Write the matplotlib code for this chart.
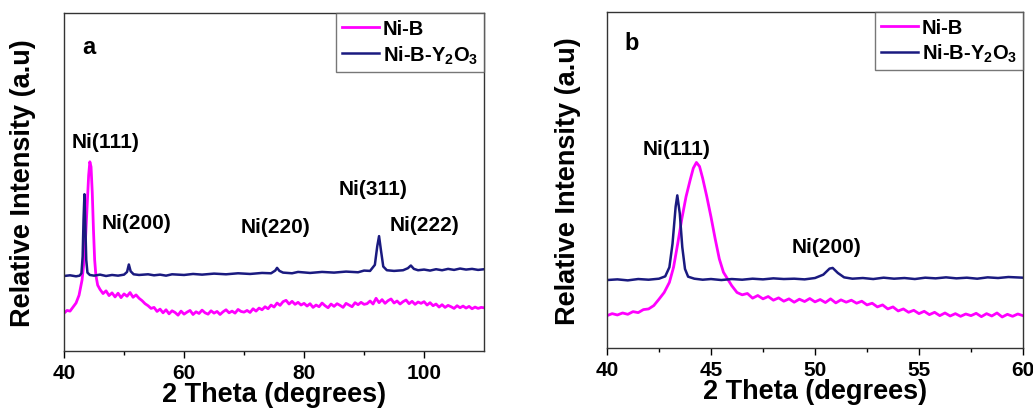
import numpy as np
import matplotlib.pyplot as plt

plt.rcParams['font.family'] = ['Liberation Sans', 'DejaVu Sans']
plt.rcParams['font.weight'] = 'bold'
plt.rcParams['mathtext.fontset'] = 'custom'
plt.rcParams['mathtext.rm'] = 'Liberation Sans:bold'
plt.rcParams['mathtext.bf'] = 'Liberation Sans:bold'

PINK = '#FF00FF'
NAVY = '#1A1A80'

# ---- panel a : full scan 40-110 ----
nib_a_x_peak = [40, 40.5, 41, 41.5, 42, 42.5, 43, 43.3, 43.6, 43.9, 44.1, 44.3, 44.5,
                44.7, 44.9, 45.1, 45.3, 45.6, 46.0]
nib_a_y_peak = [11.2, 12.0, 11.8, 13.0, 14.2, 16.5, 21.0, 26.0, 34.0, 45.0, 52.0, 56.0, 54.5,
                47.0, 36.0, 27.0, 22.5, 19.5, 18.2]
# 46.5 .. 110 every 0.5 deg
nib_a_y_rest = [17.0, 17.8, 16.4, 17.2,
                16.0, 17.1, 15.8, 16.9, 16.2, 17.3, 15.9, 16.6,
                15.6, 14.9, 14.0, 13.4, 12.6, 12.9, 11.7, 12.4,
                11.3, 12.2, 11.0, 11.9, 11.4, 10.6, 11.8, 10.9, 11.5, 12.0, 10.8, 11.6, 11.1, 12.1,
                11.3, 10.9, 11.9, 11.2, 11.7, 10.8, 11.6, 12.2, 11.3, 11.8, 11.2, 12.3, 11.7, 11.5,
                12.0, 11.4, 12.5, 11.8, 12.7, 12.2, 13.1, 12.5, 13.6, 13.0,
                14.2, 13.5, 14.6, 15.0, 13.9, 14.7, 13.8, 14.4, 13.6, 14.1,
                13.3, 14.0, 12.9, 13.6, 13.1, 14.2, 13.4, 12.8, 13.9, 13.2,
                14.0, 13.5, 12.9, 14.1, 13.6, 13.1, 14.3, 13.7, 14.4, 13.8,
                14.0, 14.8, 13.9, 15.6, 14.3, 15.2, 14.1, 14.9, 15.4, 14.2,
                14.8, 13.9, 14.6, 15.1, 14.0, 14.7, 13.8, 14.5, 14.1, 14.6,
                13.6, 14.3, 13.4, 13.9, 13.0, 13.7, 12.9, 13.5, 13.1, 12.6,
                13.4, 12.8, 13.3, 12.7, 13.2, 12.5, 13.0, 12.6, 12.9, 12.8]
nib_a_x = nib_a_x_peak + list(np.linspace(46.5, 110, len(nib_a_y_rest)))
nib_a_y = nib_a_y_peak + nib_a_y_rest

y2o3_a_x = [40, 41, 42, 42.6, 42.9, 43.1, 43.25, 43.4, 43.55, 43.7, 43.9, 44.3, 45, 46, 47,
            48, 49, 50, 50.5, 50.8, 51.1, 51.6, 52.5, 54, 55, 56, 57, 58, 60, 61.5, 63, 65,
            67, 69, 71, 73, 74.5, 75.2, 75.5, 75.9, 76.5, 78, 79, 81, 83, 85, 87, 89, 90, 91,
            91.8, 92.2, 92.5, 92.8, 93.2, 93.8, 95, 96.5, 97.3, 97.8, 98.3, 99, 100, 101, 102,
            103, 104, 105, 106, 107, 108, 109, 110]
y2o3_a_y = [22.2, 22.4, 22.1, 22.3, 23.0, 28.0, 39.0, 46.4, 37.0, 27.0, 23.2, 22.5, 22.3, 22.6, 22.2,
            22.5, 22.3, 22.6, 23.4, 25.6, 23.6, 22.7, 22.5, 22.7, 22.4, 22.6, 22.3, 22.7, 22.5, 22.8, 22.6, 22.9,
            22.7, 23.0, 22.8, 23.1, 23.0, 23.8, 24.6, 23.7, 23.2, 23.0, 23.4, 23.1, 23.4, 23.2, 23.5, 23.3, 23.8, 23.7,
            25.5, 31.0, 34.0, 30.0, 25.0, 23.9, 23.7, 23.9, 24.5, 25.3, 24.3, 23.9, 24.1, 23.8, 24.2,
            23.9, 24.3, 24.0, 24.4, 24.1, 24.3, 24.0, 24.2]

peaks_a = ['Ni(111)', 'Ni(200)', 'Ni(220)', 'Ni(311)', 'Ni(222)']
peaks_a_x = [47.0, 52.0, 75.3, 91.5, 100.0]
peaks_a_y = [62, 38, 36.8, 48, 37.3]

# ---- panel b : zoom 40-60 ----
nib_b_x = [40, 40.25, 40.5, 40.75, 41, 41.25, 41.5, 41.75, 42, 42.25, 42.5, 42.75, 43, 43.2,
           43.4, 43.6, 43.8, 44.0, 44.15, 44.3, 44.45, 44.6, 44.8, 45.0, 45.2, 45.4, 45.6,
           45.8, 46.0, 46.25, 46.5, 46.75, 47, 47.25, 47.5, 47.75, 48, 48.25, 48.5, 48.75,
           49, 49.25, 49.5, 49.75, 50, 50.25, 50.5, 50.75, 51, 51.25, 51.5, 51.75, 52, 52.25,
           52.5, 52.75, 53, 53.25, 53.5, 53.75, 54, 54.25, 54.5, 54.75, 55, 55.25, 55.5,
           55.75, 56, 56.25, 56.5, 56.75, 57, 57.25, 57.5, 57.75, 58, 58.25, 58.5, 58.75,
           59, 59.25, 59.5, 59.75, 60]
nib_b_y = [9.6, 10.2, 9.8, 10.4, 10.0, 10.8, 10.5, 11.4, 11.6, 12.6, 14.5, 16.5, 19.5, 24.0,
           31.0, 38.5, 45.0, 50.0, 53.5, 55.2, 54.0, 50.5, 45.0, 39.0, 32.5, 26.5, 22.5,
           20.5, 18.5, 16.5, 15.8, 16.2, 14.8, 15.6, 14.6, 15.3, 14.2, 14.9, 13.9, 14.6,
           13.6, 14.5, 13.8, 14.7, 13.7, 14.4, 13.5, 14.6, 13.4, 14.3, 13.6, 14.2, 13.3, 13.9,
           12.8, 13.3, 12.2, 12.8, 11.6, 12.2, 11.0, 11.6, 10.6, 11.2, 10.2, 10.9, 9.9,
           10.6, 9.6, 10.4, 9.5, 10.2, 9.4, 10.1, 9.6, 10.3, 9.3, 10.2, 9.5, 10.4,
           9.2, 10.0, 9.4, 10.1, 9.6]

y2o3_b_x = [40, 40.5, 41, 41.5, 42, 42.5, 42.8, 43.0, 43.15, 43.3, 43.38, 43.5, 43.62, 43.75,
            43.9, 44.2, 44.6, 45, 45.5, 46, 46.5, 47, 47.5, 48, 48.5, 49, 49.5, 50, 50.4,
            50.7, 50.85, 51.1, 51.4, 51.8, 52.3, 52.8, 53.3, 53.8, 54.3, 54.8, 55.3, 55.8,
            56.3, 56.8, 57.3, 57.8, 58.3, 58.8, 59.3, 60]
y2o3_b_y = [20.2, 20.4, 20.1, 20.5, 20.3, 20.6, 21.3, 24.0, 31.0, 42.0, 45.4, 40.0, 30.0, 23.5,
            21.2, 20.6, 20.3, 20.5, 20.2, 20.5, 20.3, 20.6, 20.4, 20.7, 20.5, 20.6, 20.4, 20.8, 21.8,
            23.6, 23.8, 22.3, 21.0, 20.6, 20.8, 20.5, 20.9, 20.6, 20.8, 20.5, 20.9, 20.7,
            21.0, 20.7, 20.9, 20.6, 21.0, 20.8, 21.1, 20.9]

peaks_b = ['Ni(111)', 'Ni(200)']
peaks_b_x = [43.35, 50.53]
peaks_b_y = [59.3, 30.3]

fig = plt.figure(figsize=(10.33, 4.10), dpi=100)
ax1 = fig.add_axes([0.062, 0.1415, 0.4066, 0.824])
ax2 = fig.add_axes([0.5876, 0.149, 0.4027, 0.8195])


def style(ax, xlim, major, minor, letter, letter_xy, ylabelpad):
    ax.set_xlim(*xlim)
    ax.set_ylim(0, 100)
    ax.set_xticks(major)
    ax.set_xticks(minor, minor=True)
    ax.set_yticks([])
    ax.tick_params(axis='x', which='major', direction='out', length=5, width=1,
                   labelsize=15, pad=4)
    ax.tick_params(axis='x', which='minor', direction='out', length=3, width=1)
    for lab in ax.get_xticklabels():
        lab.set_fontweight('bold')
    for sp in ax.spines.values():
        sp.set_color('#333333')
        sp.set_linewidth(1.0)
    ax.set_xlabel('2 Theta (degrees)', fontsize=19.5, fontweight='bold', labelpad=-1)
    ax.set_ylabel('Relative Intensity (a.u)', fontsize=19.5, fontweight='bold',
                  labelpad=ylabelpad)
    ax.text(letter_xy[0], letter_xy[1], letter, fontsize=17, fontweight='bold',
            ha='center', va='center')
    # legend box sits in the top right corner, square frame
    leg = ax.legend(loc='upper right', borderaxespad=0, fancybox=False, fontsize=14.5,
                    handlelength=1.8, handletextpad=0.2, labelspacing=0.25, borderpad=0.3)
    leg.get_frame().set_edgecolor('#555555')
    leg.get_frame().set_linewidth(1.0)
    for t in leg.get_texts():
        t.set_fontweight('bold')


ax1.plot(nib_a_x, nib_a_y, color=PINK, lw=2.0, label='Ni-B')
ax1.plot(y2o3_a_x, y2o3_a_y, color=NAVY, lw=1.8, label='Ni-B-Y$_2$O$_3$')
for s, x, y in zip(peaks_a, peaks_a_x, peaks_a_y):
    ax1.text(x, y, s, fontsize=15, fontweight='bold', ha='center', va='center')
style(ax1, (40, 110), [40, 60, 80, 100], [50, 70, 90], 'a', (44.2, 90), 20)

ax2.plot(nib_b_x, nib_b_y, color=PINK, lw=2.0, label='Ni-B')
ax2.plot(y2o3_b_x, y2o3_b_y, color=NAVY, lw=1.8, label='Ni-B-Y$_2$O$_3$')
for s, x, y in zip(peaks_b, peaks_b_x, peaks_b_y):
    ax2.text(x, y, s, fontsize=15, fontweight='bold', ha='center', va='center')
style(ax2, (40, 60), [40, 45, 50, 55, 60], [42.5, 47.5, 52.5, 57.5], 'b', (41.17, 91), 19)

fig.savefig('out.png', dpi=100)
